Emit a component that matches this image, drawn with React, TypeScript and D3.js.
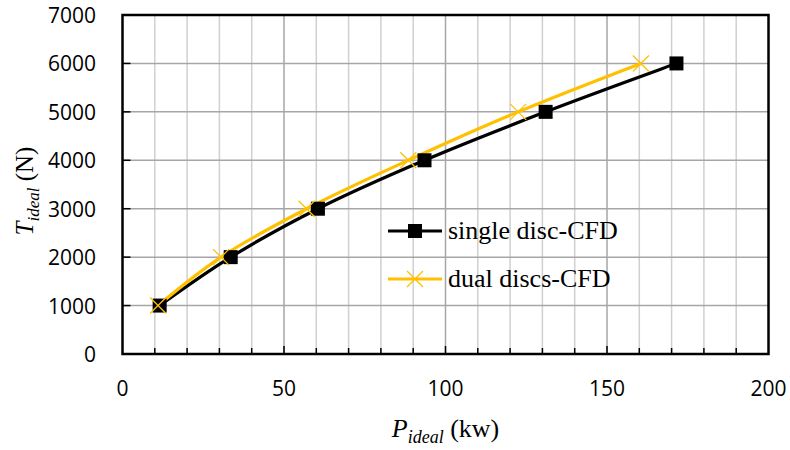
import React from "react";
import * as d3 from "d3";

const singlePower = [11.5, 33.5, 60.5, 93.5, 131, 171.5];
const singleThrust = [1000, 2000, 3000, 4000, 5000, 6000];
const dualPower = [11, 30.5, 57, 88.5, 122.5, 160.5];
const dualThrust = [1000, 2000, 3000, 4000, 5000, 6000];
const xTicks = [0, 50, 100, 150, 200];
const yTicks = [0, 1000, 2000, 3000, 4000, 5000, 6000, 7000];
const seriesNames = ["single disc-CFD", "dual discs-CFD"];

const W = 790, H = 450;
const L = 122.5, R = 768.5, T = 15, B = 354;

export default function App() {
  const x = d3.scaleLinear().domain([0, 200]).range([L, R]);
  const y = d3.scaleLinear().domain([0, 7000]).range([B, T]);
  const minor = d3.range(10, 200, 10);
  const line = d3
    .line<[number, number]>()
    .x((d) => x(d[0]))
    .y((d) => y(d[1]))
    .curve(d3.curveCatmullRom.alpha(0.5));
  const single = singlePower.map((p, i) => [p, singleThrust[i]] as [number, number]);
  const dual = dualPower.map((p, i) => [p, dualThrust[i]] as [number, number]);
  const yellow = "#FFC000";
  const cross = (cx: number, cy: number, k: string, s = 8) => (
    <g key={k} stroke={yellow} strokeWidth={1.3}>
      <line x1={cx - s} y1={cy - s} x2={cx + s} y2={cy + s} />
      <line x1={cx - s} y1={cy + s} x2={cx + s} y2={cy - s} />
    </g>
  );
  const sq = (cx: number, cy: number, k: string, s = 7) => (
    <rect key={k} x={cx - s} y={cy - s} width={2 * s} height={2 * s} fill="#000" />
  );
  return (
    <svg width={W} height={H} style={{ display: "block", position: "absolute", left: 0, top: 0 }}>
      <rect width={W} height={H} fill="#fff" />
      {minor.map((v) => (
        <line
          key={"vg" + v}
          x1={x(v)}
          x2={x(v)}
          y1={T}
          y2={B}
          stroke={v % 50 === 0 ? "#a6a6a6" : "#d0d0d0"}
          strokeWidth={1.5}
        />
      ))}
      {yTicks.slice(1, -1).map((v) => (
        <line key={"hg" + v} x1={L} x2={R} y1={y(v)} y2={y(v)} stroke="#a6a6a6" strokeWidth={1.5} />
      ))}
      {minor.map((v) => (
        <line key={"xt" + v} x1={x(v)} x2={x(v)} y1={B} y2={B - (v % 50 === 0 ? 8 : 6)} stroke="#000" strokeWidth={1.5} />
      ))}
      {yTicks.slice(1, -1).map((v) => (
        <line key={"yt" + v} x1={L} x2={L + 8} y1={y(v)} y2={y(v)} stroke="#000" strokeWidth={1.5} />
      ))}
      <rect x={L} y={T} width={R - L} height={B - T} fill="none" stroke="#000" strokeWidth={2.5} />
      {yTicks.map((v) => (
        <text
          key={"yl" + v}
          x={96}
          y={y(v) + 8}
          textAnchor="end"
          fontFamily="'Open Sans', sans-serif"
          fontSize={21}
          fill="#000"
        >
          {v}
        </text>
      ))}
      {xTicks.map((v) => (
        <text
          key={"xl" + v}
          x={x(v)}
          y={396}
          textAnchor="middle"
          fontFamily="'Open Sans', sans-serif"
          fontSize={21}
          fill="#000"
        >
          {v}
        </text>
      ))}
      <path d={line(single) || ""} fill="none" stroke="#000" strokeWidth={3.2} />
      <path d={line(dual) || ""} fill="none" stroke={yellow} strokeWidth={3.2} />
      {single.map((d, i) => sq(x(d[0]), y(d[1]), "s" + i))}
      {dual.map((d, i) => cross(x(d[0]), y(d[1]), "c" + i))}
      <line x1={388} x2={442} y1={231} y2={231} stroke="#000" strokeWidth={3.2} />
      {sq(415, 231, "ls")}
      <text x={448} y={239} fontFamily="'Liberation Serif', serif" fontSize={26} fill="#000">
        {seriesNames[0]}
      </text>
      <line x1={388} x2={442} y1={279} y2={279} stroke={yellow} strokeWidth={3.2} />
      {cross(415, 279, "lc")}
      <text x={448} y={287} fontFamily="'Liberation Serif', serif" fontSize={26} fill="#000">
        {seriesNames[1]}
      </text>
      <text
        x={(L + R) / 2}
        y={437}
        textAnchor="middle"
        fontFamily="'Liberation Serif', serif"
        fontSize={26}
        fill="#000"
      >
        <tspan fontStyle="italic">P</tspan>
        <tspan fontStyle="italic" fontSize={18} dy={6}>ideal</tspan>
        <tspan dy={-6}> (kw)</tspan>
      </text>
      <text
        transform={`translate(33, 191) rotate(-90)`}
        textAnchor="middle"
        fontFamily="'Liberation Serif', serif"
        fontSize={25}
        fill="#000"
      >
        <tspan fontStyle="italic">T</tspan>
        <tspan fontStyle="italic" fontSize={17} dy={6}>ideal</tspan>
        <tspan dy={-6}> (N)</tspan>
      </text>
    </svg>
  );
}
